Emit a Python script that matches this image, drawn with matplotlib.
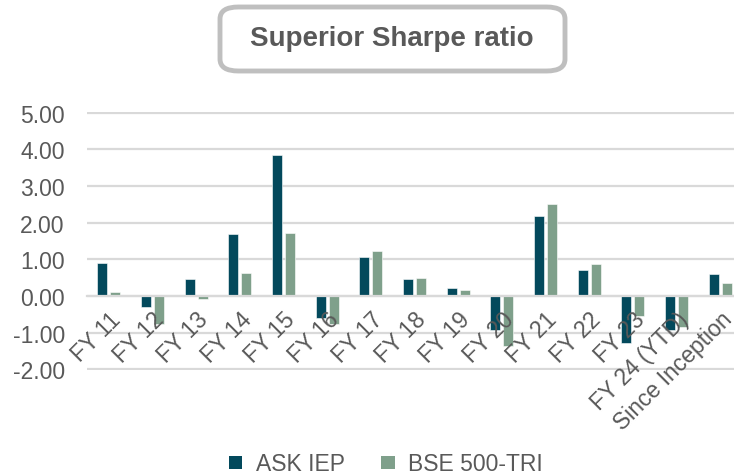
import matplotlib
matplotlib.use("Agg")
from matplotlib import pyplot as plt
from matplotlib.patches import FancyBboxPatch, Patch
import numpy as np

plt.rcParams['font.family'] = ['Liberation Sans', 'DejaVu Sans']

# data
categories = ["FY 11", "FY 12", "FY 13", "FY 14", "FY 15", "FY 16", "FY 17", "FY 18",
              "FY 19", "FY 20", "FY 21", "FY 22", "FY 23", "FY 24 (YTD)", "Since Inception"]
ask_iep = [0.90, -0.31, 0.46, 1.70, 3.85, -0.61, 1.06, 0.46, 0.22, -0.93, 2.18, 0.70, -1.29, -0.93, 0.59]
bse_500 = [0.10, -0.76, -0.07, 0.64, 1.72, -0.77, 1.24, 0.48, 0.16, -1.36, 2.52, 0.86, -0.55, -0.84, 0.35]
yticks = [-2, -1, 0, 1, 2, 3, 4, 5]

c_ask = "#03495C"
c_bse = "#7FA08B"
c_text = "#595959"
c_grid = "#D9D9D9"

W, H = 734, 477
fig = plt.figure(figsize=(W / 100, H / 100), dpi=100)
ax = fig.add_axes([87 / W, 1 - 371 / H, 1 - 87 / W, (371 - 113) / H])

# gridlines under the bars, tick labels on top
for v in yticks:
    ax.axhline(v, color=c_grid, linewidth=1.6, zorder=1)

x = np.arange(len(categories))
bw = 0.23
ax.bar(x - 0.15, ask_iep, bw, color=c_ask, edgecolor="white", linewidth=0.4, zorder=2)
ax.bar(x + 0.15, bse_500, bw, color=c_bse, edgecolor="white", linewidth=0.4, zorder=2)
ax.set_axisbelow(False)

ax.set_xlim(-0.5, 14.5 - 8 / 43.6)
ax.set_ylim(-2.02, 5.02)
ax.set_yticks(yticks)
ax.set_yticklabels(["%.2f" % v for v in yticks], color=c_text, fontsize=16.5)

for s in ["top", "right", "left"]:
    ax.spines[s].set_visible(False)
ax.spines["bottom"].set_position(("data", 0))
ax.spines["bottom"].set_color(c_grid)
ax.spines["bottom"].set_linewidth(1.6)

ax.set_xticks(x)
ax.set_xticklabels(categories, rotation=45, ha="right", rotation_mode="anchor",
                   color=c_text, fontsize=16.5)
ax.tick_params(axis="both", length=0)
ax.tick_params(axis="y", pad=16)
ax.tick_params(axis="x", pad=8)

# title box
box = FancyBboxPatch((220 / W, 1 - 72 / H), 345 / W, 64 / H,
                     boxstyle="round,pad=0,rounding_size=0.025",
                     transform=fig.transFigure, facecolor="white",
                     edgecolor="#BFBFBF", linewidth=3.5)
fig.patches.append(box)
fig.text(392 / W, 1 - 39 / H, "Superior Sharpe ratio", ha="center", va="center",
         fontsize=20, fontweight="bold", color=c_text)

handles = [Patch(facecolor=c_ask, linewidth=0, label="ASK IEP"),
           Patch(facecolor=c_bse, linewidth=0, label="BSE 500-TRI")]
fig.legend(handles=handles, loc="center", bbox_to_anchor=(386 / W, 1 - 465 / H), ncol=2,
           frameon=False, fontsize=16.5, labelcolor=c_text, handlelength=0.58,
           handleheight=0.5, handletextpad=0.6, columnspacing=1.6)

fig.savefig("out.png", dpi=100)
